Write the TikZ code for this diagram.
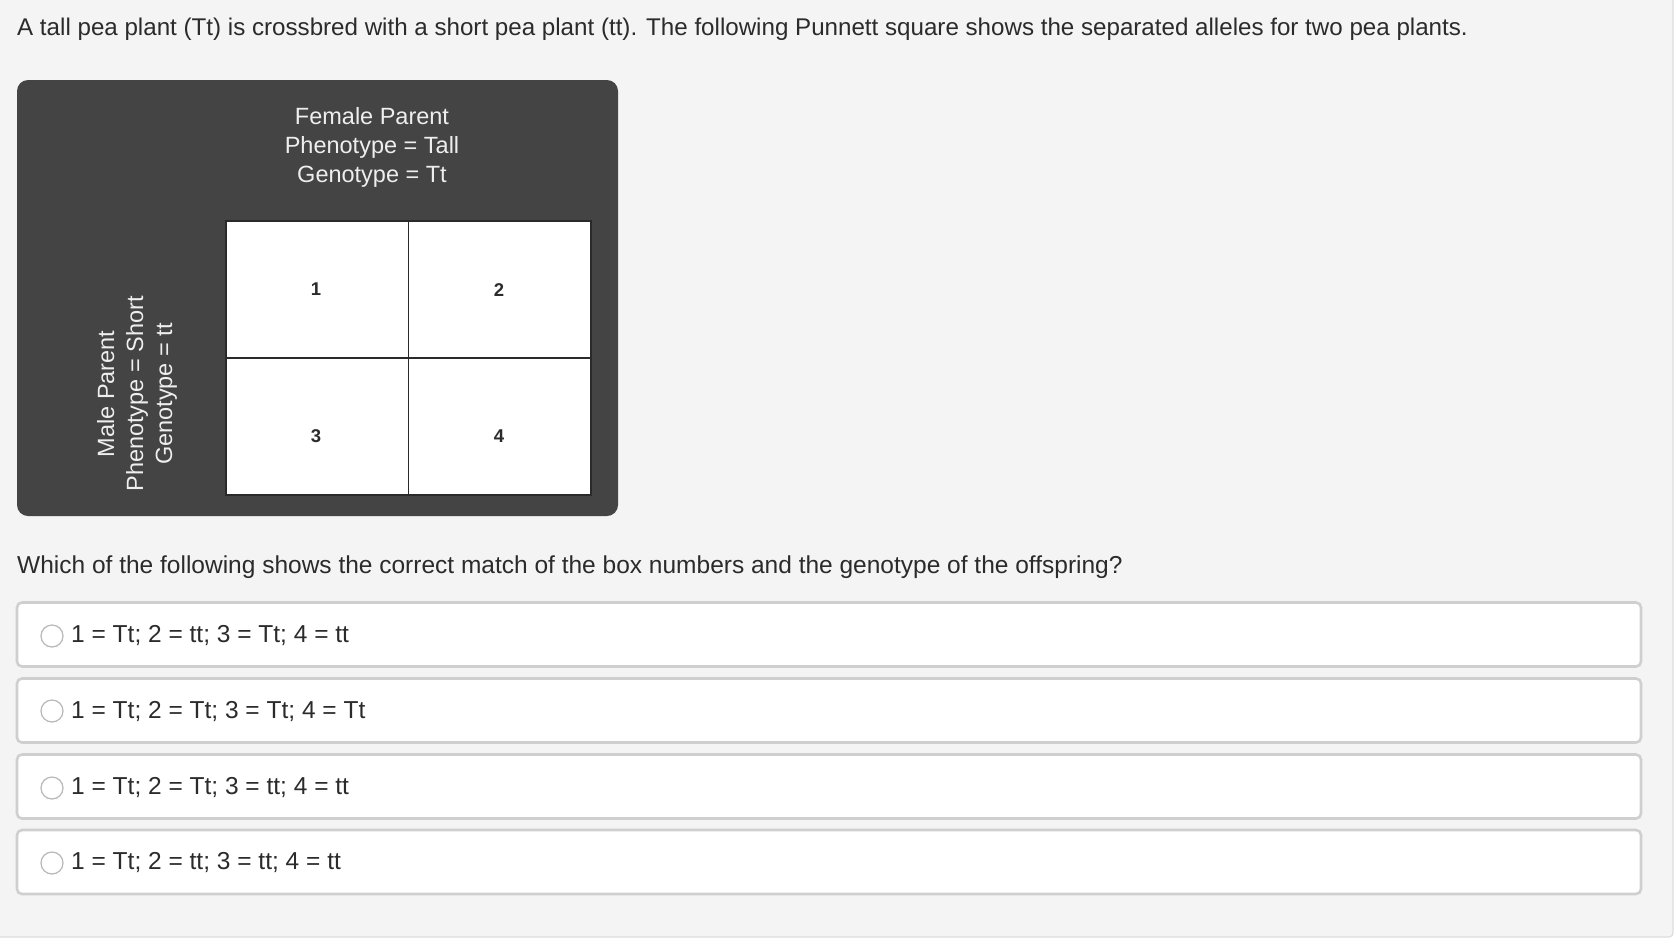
\documentclass[tikz,border=0pt]{standalone}
\usepackage{fontspec}
\setmainfont{Liberation Sans}
\definecolor{pagebg}{HTML}{F4F4F4}
\definecolor{pageedge}{HTML}{DDDDDD}
\definecolor{txt}{HTML}{2B2B2B}
\definecolor{darkbox}{HTML}{444444}
\definecolor{lighttxt}{HTML}{EEEEEE}
\definecolor{optedge}{HTML}{CFCFCF}
\definecolor{radioedge}{HTML}{B8B8B8}
\definecolor{gridline}{HTML}{2A2A2A}
\tikzset{
  bodytext/.style={text=txt, inner sep=0pt, font=\fontsize{24.5}{29}\selectfont},
  titletext/.style={text=txt, inner sep=0pt, font=\fontsize{24.15}{29}\selectfont},
  paneltext/.style={text=lighttxt, inner sep=0pt, align=center, font=\fontsize{23.5}{29}\selectfont},
  cell/.style={draw=gridline, fill=white, line width=1.4pt, minimum width=182.5pt, minimum height=137pt, inner sep=0pt},
  cellnum/.style={text=txt, inner sep=0pt, font=\fontsize{18.5}{22}\selectfont\bfseries},
  optbox/.style={draw=optedge, fill=white, line width=2.6pt, rounded corners=5pt, minimum width=1624pt, minimum height=64pt, inner sep=0pt},
  radio/.style={circle, draw=radioedge, fill=white, line width=1.2pt, minimum size=22pt, inner sep=0pt},
}
\begin{document}
\begin{tikzpicture}[x=1pt, y=-1pt]
\useasboundingbox (0,0) rectangle (1676,948);
\fill[white] (0,0) rectangle (1676,948);
\filldraw[fill=pagebg, draw=pageedge, line width=1.2pt, rounded corners=4pt] (-10,-10) rectangle (1673,937);

\node[titletext, anchor=base west] (title) at (17,35) {A tall pea plant (Tt) is crossbred with a short pea plant (tt). The following Punnett square shows the separated alleles for two pea plants.};

% Punnett panel
\node[fill=darkbox, rounded corners=11pt, minimum width=601pt, minimum height=436pt, inner sep=0pt] (panel) at (317.5,298) {};
\node[paneltext] (female) at (372,147) {Female Parent\\Phenotype = Tall\\Genotype = Tt};
\node[paneltext, rotate=90] (male) at (137,394) {Male Parent\\Phenotype = Short\\Genotype = tt};

\node[cell] (c1) at (317.25,289.5) {};
\node[cell] (c2) at (499.75,289.5) {};
\node[cell] (c3) at (317.25,426.5) {};
\node[cell] (c4) at (499.75,426.5) {};
\node[cellnum] (n1) at (316,289) {1};
\node[cellnum] (n2) at (499,290) {2};
\node[cellnum] (n3) at (316,436) {3};
\node[cellnum] (n4) at (499,436) {4};

\node[bodytext, anchor=base west] (question) at (17,573) {Which of the following shows the correct match of the box numbers and the genotype of the offspring?};

% options
\node[optbox] (o1) at (829,634.5) {};
\node[optbox] (o2) at (829,710.5) {};
\node[optbox] (o3) at (829,786.5) {};
\node[optbox] (o4) at (829,862) {};
\node[radio] (r1) at (52,636) {};
\node[radio] (r2) at (52,711) {};
\node[radio] (r3) at (52,788) {};
\node[radio] (r4) at (52,863) {};
\node[bodytext, anchor=base west] (t1) at (71,642) {1 = Tt; 2 = tt; 3 = Tt; 4 = tt};
\node[bodytext, anchor=base west] (t2) at (71,718) {1 = Tt; 2 = Tt; 3 = Tt; 4 = Tt};
\node[bodytext, anchor=base west] (t3) at (71,794) {1 = Tt; 2 = Tt; 3 = tt; 4 = tt};
\node[bodytext, anchor=base west] (t4) at (71,869) {1 = Tt; 2 = tt; 3 = tt; 4 = tt};
\end{tikzpicture}
\end{document}
